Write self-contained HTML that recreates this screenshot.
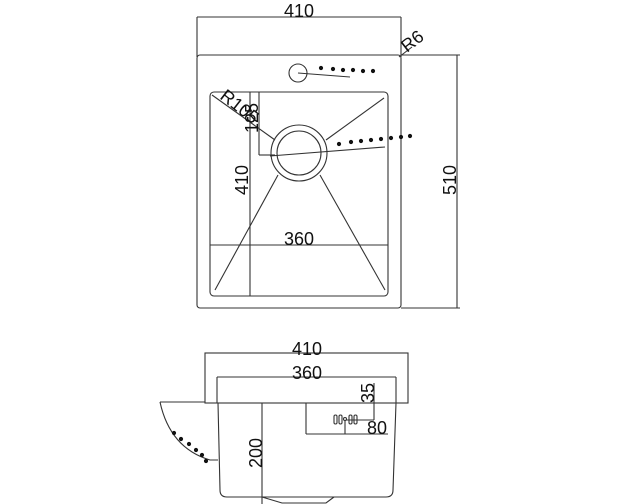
<!DOCTYPE html>
<html><head><style>
html,body{margin:0;padding:0;background:#fff;width:617px;height:504px;overflow:hidden}
svg{display:block}
text{font-family:"Liberation Sans",Arial,sans-serif;fill:#111}
</style></head><body>
<svg width="617" height="504" viewBox="0 0 617 504" xmlns="http://www.w3.org/2000/svg">
<g fill="none" stroke="#333" stroke-width="1.1">
<line x1="197" y1="17" x2="401" y2="17"/>
<line x1="197" y1="17" x2="197" y2="57"/>
<line x1="401" y1="17" x2="401" y2="57"/>
<rect x="197" y="55" width="204" height="253" rx="3"/>
<line x1="401" y1="55" x2="460" y2="55"/>
<line x1="401" y1="308" x2="460" y2="308"/>
<line x1="457" y1="55" x2="457" y2="308"/>
<line x1="399" y1="57" x2="412" y2="47"/>
<rect x="210" y="92" width="178" height="204" rx="4"/>
<line x1="210" y1="245" x2="388" y2="245"/>
<line x1="250" y1="92" x2="250" y2="296"/>
<line x1="259" y1="92" x2="259" y2="155"/>
<line x1="259" y1="155" x2="275" y2="155"/>
<line x1="212" y1="95" x2="275" y2="140"/>
<line x1="384" y1="98" x2="326" y2="140"/>
<line x1="278" y1="175" x2="215" y2="290"/>
<line x1="320" y1="175" x2="385" y2="290"/>
<circle cx="299" cy="153" r="28"/>
<circle cx="299" cy="153" r="22"/>
<line x1="270" y1="156" x2="385" y2="147"/>
<circle cx="298" cy="73" r="9"/>
<line x1="298" y1="73" x2="350" y2="77"/>
<rect x="205" y="353" width="203" height="50"/>
<line x1="217" y1="377" x2="396" y2="377"/>
<line x1="217" y1="377" x2="217" y2="403"/>
<line x1="396" y1="377" x2="396" y2="403"/>
<path d="M218 403 L220 490 Q220 497 227 497 L386 497 Q393 497 393 490 L396 403"/>
<line x1="262" y1="403" x2="262" y2="504"/>
<path d="M262 497 L282 503 L326 503 L334 497"/>
<line x1="306" y1="403" x2="306" y2="434"/>
<line x1="306" y1="434" x2="388" y2="434"/>
<line x1="374" y1="383" x2="374" y2="420"/>
<line x1="346" y1="420" x2="374" y2="420"/>
<line x1="345" y1="420" x2="345" y2="434"/>
<rect x="334" y="415" width="3" height="9" rx="1.5"/>
<rect x="339" y="415" width="3" height="9" rx="1.5"/>
<rect x="349" y="415" width="3" height="9" rx="1.5"/>
<rect x="354" y="415" width="3" height="9" rx="1.5"/>
<circle cx="345" cy="419" r="1.5"/>
<path d="M160 402 Q170 448 210 460 L218 460"/>
<line x1="160" y1="402" x2="205" y2="402"/>
</g>
<g fill="#111">
<circle cx="321" cy="68" r="2.1"/><circle cx="333" cy="69" r="2.1"/><circle cx="343" cy="70" r="2.1"/><circle cx="353" cy="70" r="2.1"/><circle cx="363" cy="71" r="2.1"/><circle cx="373" cy="71" r="2.1"/>
<circle cx="339" cy="144" r="2.1"/><circle cx="351" cy="142" r="2.1"/><circle cx="361" cy="141" r="2.1"/><circle cx="371" cy="140" r="2.1"/><circle cx="381" cy="139" r="2.1"/><circle cx="391" cy="138" r="2.1"/><circle cx="401" cy="137" r="2.1"/><circle cx="410" cy="136" r="2.1"/>
<circle cx="174" cy="433" r="2.1"/><circle cx="181" cy="439" r="2.1"/><circle cx="189" cy="444" r="2.1"/><circle cx="196" cy="450" r="2.1"/><circle cx="202" cy="455" r="2.1"/><circle cx="206" cy="461" r="2.1"/>
</g>
<text x="299" y="17" font-size="18" text-anchor="middle">410</text>
<text x="0" y="0" font-size="18" transform="translate(407,53) rotate(-38)">R6</text>
<text x="0" y="0" font-size="18" transform="translate(219,98) rotate(38)">R105</text>
<text x="0" y="0" font-size="18" text-anchor="middle" transform="translate(258,118) rotate(-90)">125</text>
<text x="0" y="0" font-size="18" text-anchor="middle" transform="translate(248,180) rotate(-90)">410</text>
<text x="0" y="0" font-size="18" text-anchor="middle" transform="translate(456,180) rotate(-90)">510</text>
<text x="299" y="245" font-size="18" text-anchor="middle">360</text>
<text x="307" y="355" font-size="18" text-anchor="middle">410</text>
<text x="307" y="379" font-size="18" text-anchor="middle">360</text>
<text x="0" y="0" font-size="18" text-anchor="middle" transform="translate(374,393) rotate(-90)">35</text>
<text x="367" y="434" font-size="18">80</text>
<text x="0" y="0" font-size="18" text-anchor="middle" transform="translate(262,453) rotate(-90)">200</text>
</svg>
</body></html>
